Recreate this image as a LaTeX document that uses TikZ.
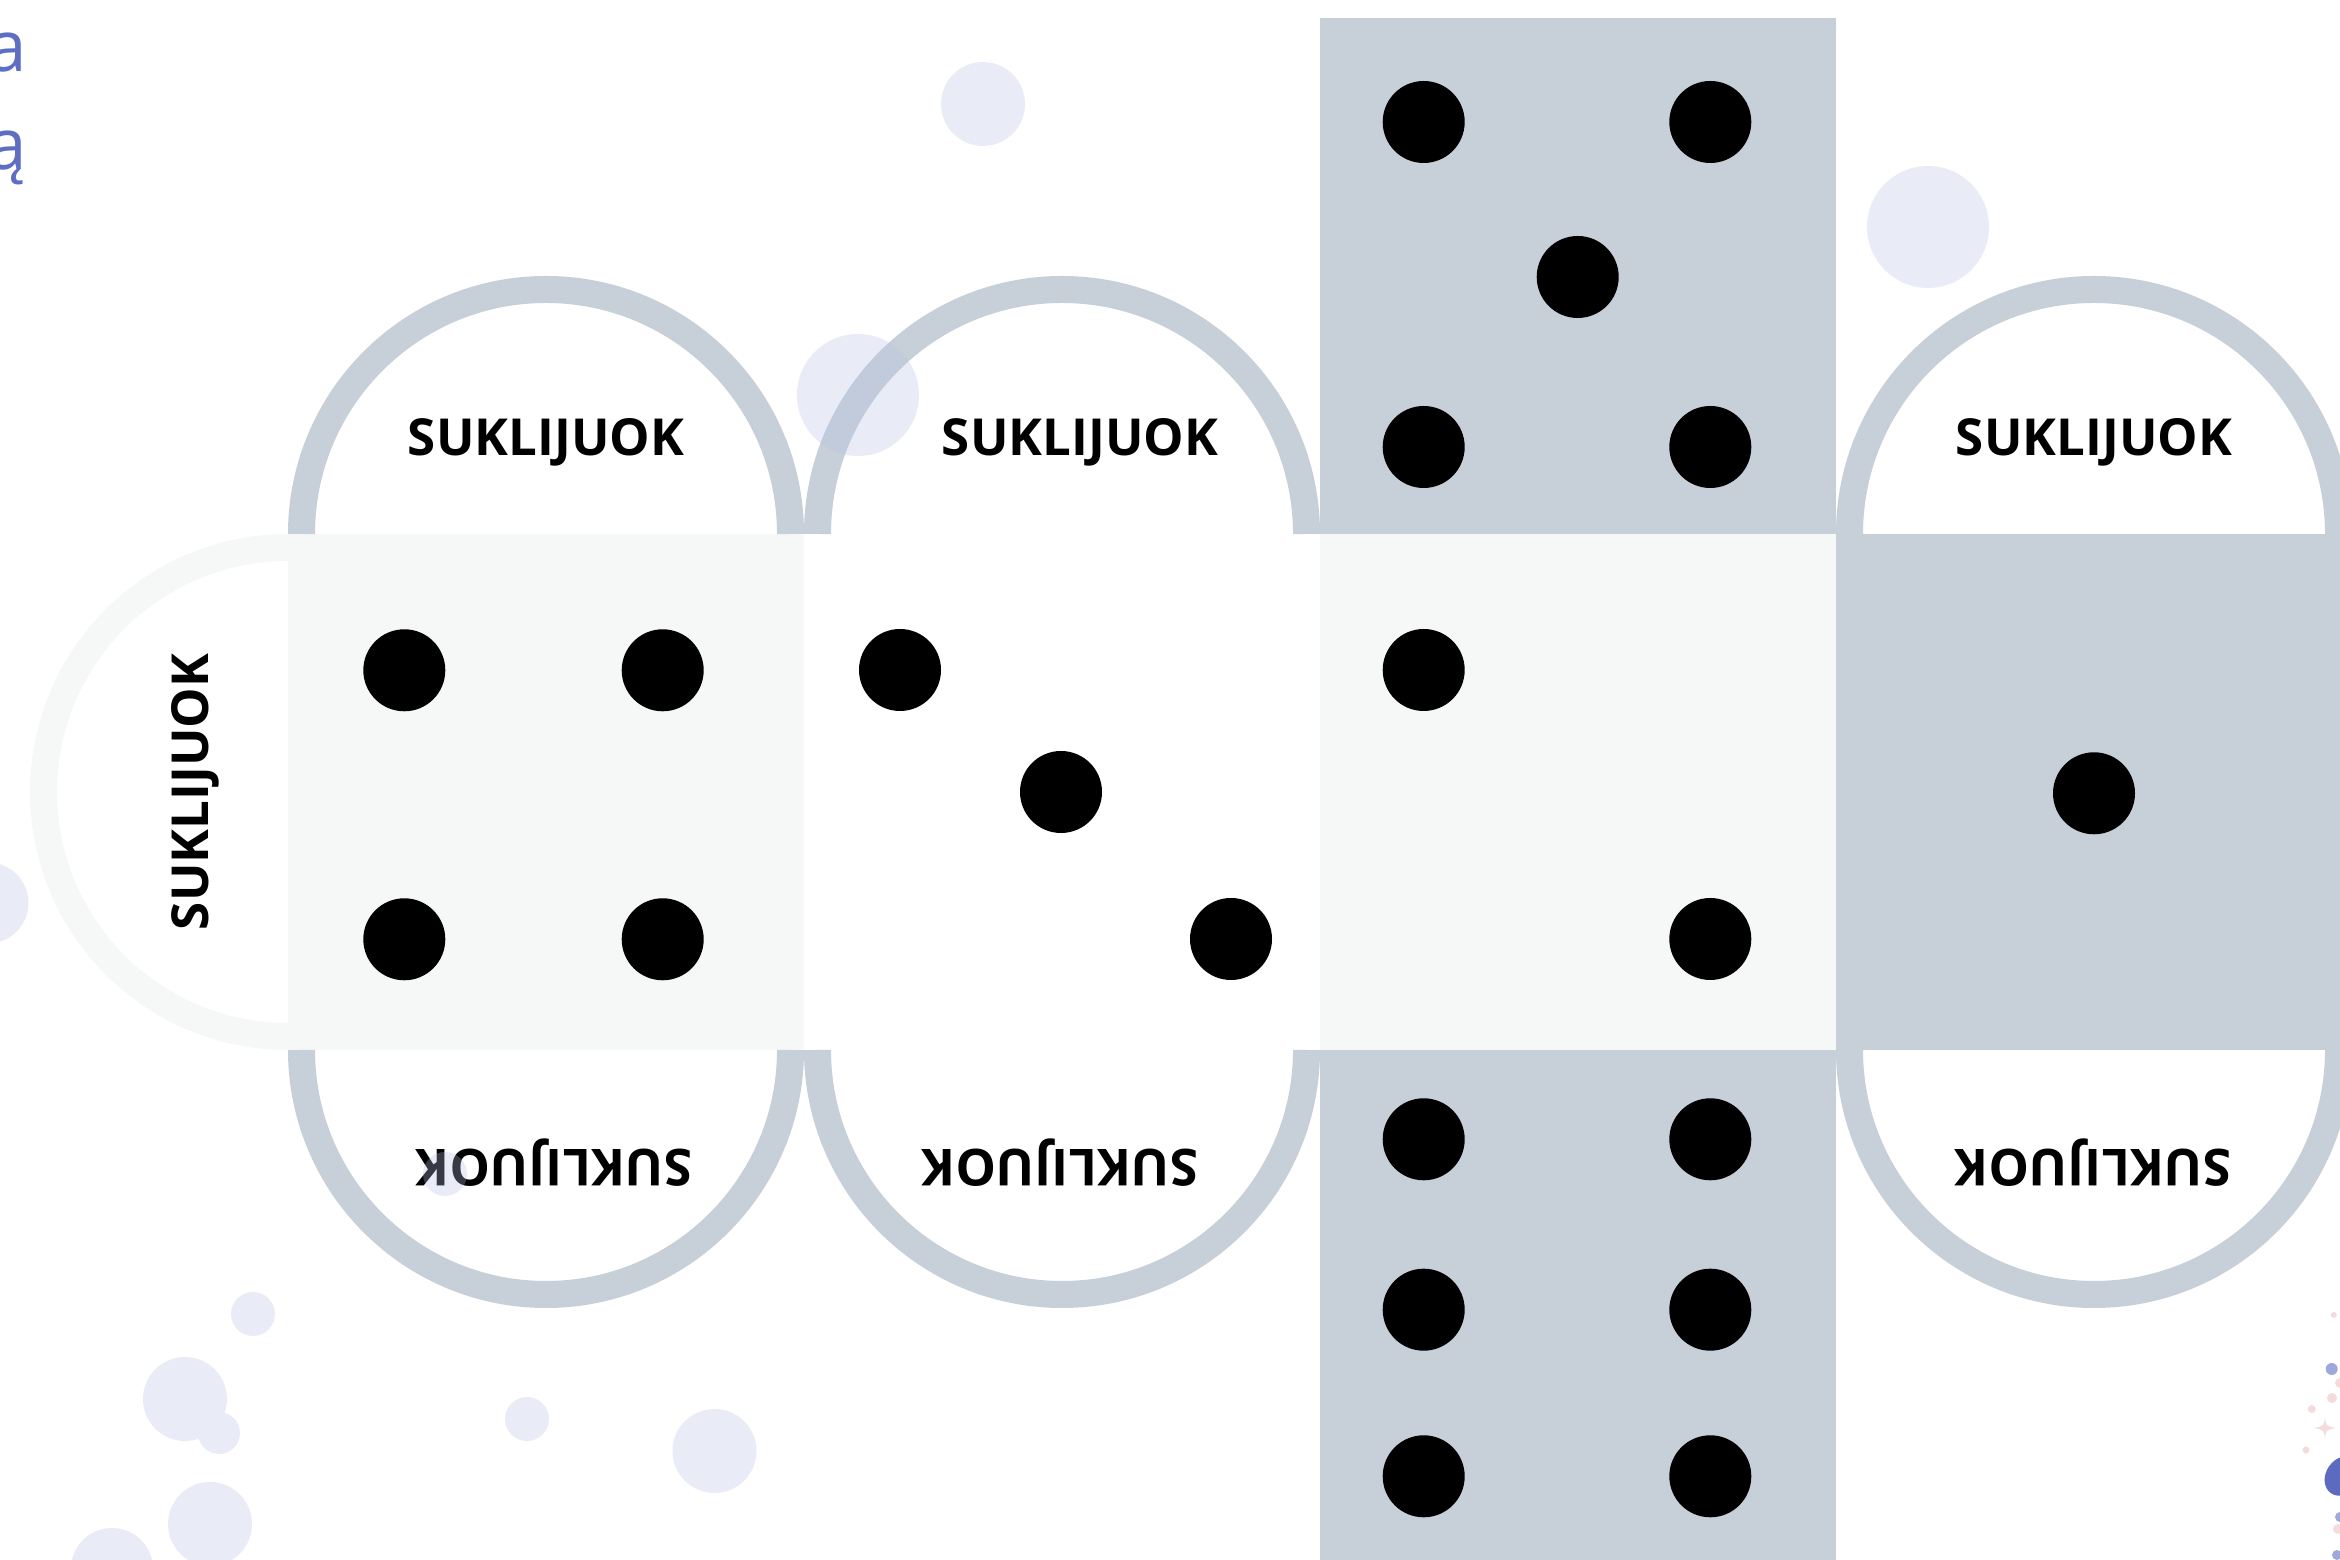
\documentclass[tikz,border=0pt]{standalone}
\usepackage{fontspec}
\setmainfont{Open Sans}
\usetikzlibrary{calc}
\definecolor{tabgray}{HTML}{C7CFD8}
\definecolor{lightsq}{HTML}{F6F8F7}
\definecolor{bubble}{HTML}{B8C2E6}
\definecolor{blueD}{HTML}{5C6BC0}
\definecolor{blueL}{HTML}{9FA8DA}
\definecolor{pinkL}{HTML}{F5DCDC}
\definecolor{letterblue}{HTML}{5E6EC2}
\tikzset{
  tabline/.style={draw=tabgray, line width=27pt},
  lighttab/.style={draw=lightsq, line width=27pt},
  pip/.style={fill=black},
  bub/.style={fill=bubble},
  tabtext/.style={inner sep=0pt, anchor=base, font=\fontsize{51}{58}\selectfont\bfseries},
  lettertext/.style={inner sep=0pt, anchor=base east, text=letterblue, font=\fontsize{71}{80}\selectfont}
}
\begin{document}
\begin{tikzpicture}[x=1pt,y=1pt]
\useasboundingbox (0,0) rectangle (2340,1560);
\clip (0,0) rectangle (2340,1560);
\fill[white] (0,0) rectangle (2340,1560);
% squares
\fill[lightsq] (288,510) rectangle (804,1026);
\fill[white] (804,510) rectangle (1320,1026);
\fill[lightsq] (1320,510) rectangle (1836,1026);
\fill[tabgray] (1836,510) rectangle (2352,1026);
\fill[tabgray] (1320,1026) rectangle (1836,1542);
\fill[tabgray] (1320,-6) rectangle (1836,510);
% tabs
\foreach \c in {546,1062,2094}{
  \draw[tabline] (\c+244.5,1026) arc[start angle=0, end angle=180, radius=244.5];
  \draw[tabline] (\c+244.5,510) arc[start angle=0, end angle=-180, radius=244.5];
}
\draw[lighttab] (288,1012.5) arc[start angle=90, end angle=270, radius=244.5];
% pips
\foreach \p in {(404.3,889.7),(662.7,889.7),(404.3,620.7),(662.7,620.7),
  (900,890),(1061,768),(1231,621),
  (1423.7,1438),(1710.3,1438),(1577.7,1283),(1423.7,1113),(1710.3,1113),
  (1423.7,890),(1710.3,621),
  (1423.7,420.7),(1710.3,420.7),(1423.7,250.3),(1710.3,250.3),(1423.7,83.7),(1710.3,83.7),
  (2094,766.7)}{
  \fill[pip] \p circle[radius=41];
}
% texts
\node[tabtext] (t1) at (546,1104) {SUKLIJUOK};
\node[tabtext] (t2) at (1080,1104) {SUKLIJUOK};
\node[tabtext] (t4) at (2094,1104) {SUKLIJUOK};
\node[tabtext, rotate=180] (b1) at (554,410) {SUKLIJUOK};
\node[tabtext, rotate=180] (b2) at (1060,410) {SUKLIJUOK};
\node[tabtext, rotate=180] (b4) at (2093,410) {SUKLIJUOK};
\node[tabtext, rotate=90] (l1) at (208,768) {SUKLIJUOK};
\node[lettertext] (la) at (27,1488) {a};
\node[lettertext] (lb) at (27,1390) {ą};
% bubbles
\begin{scope}[transparency group, opacity=0.3]
\foreach \x/\y/\r in {983/1456/42, 1928/1333/61, 858/1165/61, -12/657/40.5,
  253/246/22, 185/161/42, 219/127/21, 210/36/42, 112/-9/41, 527/141/22,
  714.5/109/42, 445/386/22}{
  \fill[bub] (\x,\y) circle[radius=\r];
}
\end{scope}
% decoration bottom right
\fill[pinkL] (2333.7,245) circle[radius=3];
\fill[blueL] (2331.7,191) circle[radius=6];
\fill[pinkL] (2340,177) circle[radius=5];
\fill[pinkL] (2332,162) circle[radius=5];
\fill[pinkL] (2311.7,151) circle[radius=4];
\fill[pinkL] (2325,143) .. controls (2326,134) .. (2336,132) .. controls (2326,130) .. (2325,121) .. controls (2324,130) .. (2314,132) .. controls (2324,134) .. (2325,143) -- cycle;
\fill[pinkL] (2306,110) circle[radius=3.5];
\fill[blueD, rotate around={-35:(2343,84)}] (2343,84) ellipse[x radius=17, y radius=21];
\fill[blueL] (2340,43) circle[radius=5];
\fill[pinkL] (2338,31) circle[radius=5];
\fill[blueL] (2337,5) circle[radius=5];
\end{tikzpicture}
\end{document}
